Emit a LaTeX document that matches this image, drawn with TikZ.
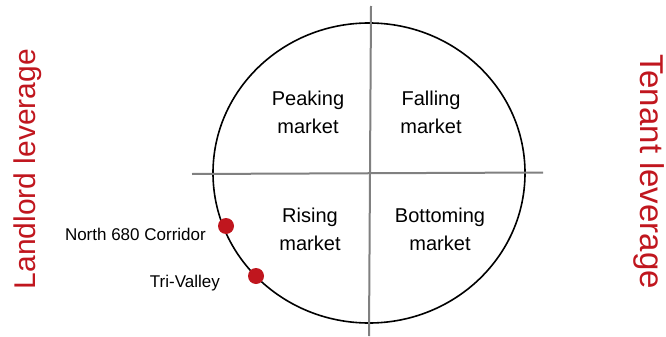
\documentclass[tikz,border=0pt]{standalone}
\usepackage{fontspec}
\setmainfont{Liberation Sans}
\definecolor{cyclered}{RGB}{192,22,30}
\definecolor{axisgrey}{RGB}{128,128,128}
\begin{document}
\begin{tikzpicture}[x=1pt,y=-1pt,
  quadtext/.style={align=center,anchor=base,inner sep=0pt,
    font=\fontsize{20}{28}\selectfont},
  placetext/.style={anchor=base east,inner sep=0pt,
    font=\fontsize{17}{20}\selectfont},
  sidetext/.style={anchor=base,inner sep=0pt,text=cyclered},
  marker/.style={circle,fill=cyclered,draw=none,minimum size=16pt,inner sep=0pt},
  axisline/.style={draw=axisgrey,line width=2pt},
  cycleline/.style={draw=black,line width=1.6pt}]
\useasboundingbox (0,0) rectangle (666,337);

% market cycle
\draw[cycleline] (369,173) ellipse [x radius=156, y radius=150];

% axes of the cycle
\coordinate (vtop) at (371,6);
\coordinate (vbot) at (369,336);
\coordinate (hleft) at (192,174);
\coordinate (hright) at (543,172.5);
\draw[axisline] (vtop) -- (vbot);
\draw[axisline] (hleft) -- (hright);

% quadrant names (anchored on the baseline of the lower line)
\node[quadtext] (peak) at (308,133) {Peaking\\market};
\node[quadtext] (fall) at (431,133) {Falling\\market};
\node[quadtext] (rise) at (310,250) {Rising\\market};
\node[quadtext] (bottom) at (440,250) {Bottoming\\market};

% submarkets on the cycle
\node[marker] (north) at (226,226) {};
\node[marker] (trivalley) at (256,276) {};
\node[placetext] (northlabel) at (206,240) {North 680 Corridor};
\node[placetext] (trilabel) at (220,287) {Tri-Valley};

% leverage captions
\node[sidetext,rotate=90,font=\fontsize{30}{36}\selectfont] (landlord) at (35,169) {Landlord leverage};
\node[sidetext,rotate=-90,font=\fontsize{33}{38}\selectfont] (tenant) at (640,171.5) {Tenant leverage};
\end{tikzpicture}
\end{document}
